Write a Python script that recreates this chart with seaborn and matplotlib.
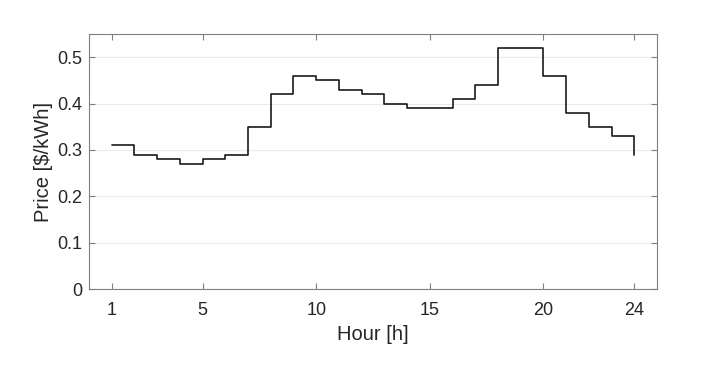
import matplotlib
matplotlib.use('Agg')
import matplotlib.pyplot as plt
import seaborn as sns
import pandas as pd

# ── Data ───────────────────────────────────────────────────────────────────────
hours = list(range(1, 25))
price = [0.31, 0.29, 0.28, 0.27, 0.28, 0.29, 0.35, 0.42, 0.46, 0.45, 0.43, 0.42,
         0.40, 0.39, 0.39, 0.41, 0.44, 0.52, 0.52, 0.46, 0.38, 0.35, 0.33, 0.29]
x_ticks = [1, 5, 10, 15, 20, 24]
y_ticks = [0, 0.1, 0.2, 0.3, 0.4, 0.5]
y_tick_labels = ['0', '0.1', '0.2', '0.3', '0.4', '0.5']

df = pd.DataFrame({'hour': hours, 'price': price})

# ── Style ──────────────────────────────────────────────────────────────────────
sns.set_theme(style='white')
plt.rcParams['font.family'] = ['Liberation Sans', 'DejaVu Sans']

fig = plt.figure(figsize=(7.05, 3.65), dpi=100)
ax = fig.add_axes([0.1262, 0.2082, 0.8058, 0.6986])

sns.lineplot(data=df, x='hour', y='price', ax=ax, color='#1a1a1a',
             linewidth=1.2, drawstyle='steps-post')

ax.set_xlim(0, 25)
ax.set_ylim(0, 0.55)
ax.set_xticks(x_ticks)
ax.set_yticks(y_ticks)
ax.set_yticklabels(y_tick_labels)
ax.yaxis.grid(True, color='#ebebeb', linewidth=0.8)
ax.set_axisbelow(True)

for s in ax.spines.values():
    s.set_visible(True)
    s.set_color('#7f7f7f')
    s.set_linewidth(0.8)

ax.tick_params(direction='in', length=4, width=0.8, color='#7f7f7f',
               top=True, right=True, bottom=True, left=True,
               labelsize=13, labelcolor='#262626')
ax.tick_params(axis='x', pad=9)
ax.tick_params(axis='y', pad=5)

ax.set_xlabel('Hour [h]', fontsize=14.5, color='#262626', labelpad=5)
ax.set_ylabel('Price [\\$/kWh]', fontsize=14.5, color='#262626', labelpad=3)

plt.savefig('out.png', dpi=100)
plt.close()
